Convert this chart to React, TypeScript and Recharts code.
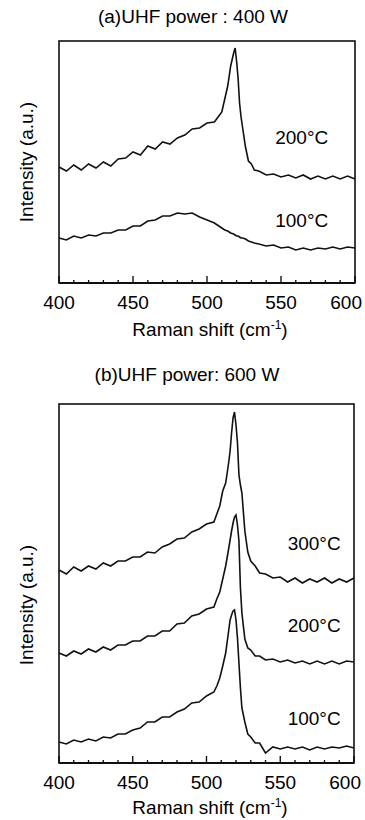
import React from "react";
import { LineChart, Line, XAxis, YAxis, ReferenceDot, ReferenceArea } from "recharts";

const FONT = "'Liberation Sans', Arial, Helvetica, sans-serif";

// (a) UHF power 400 W
const shiftA = [
  400, 405, 410, 415, 420, 425, 430, 435, 440, 445, 450, 455, 460, 465, 470, 475, 480, 485, 490, 495, 500, 505,
  508, 510, 512, 514, 516, 518, 519, 520, 521, 522, 523, 524, 526, 528, 530, 532, 535,
  540, 545, 550, 555, 560, 565, 570, 575, 580, 585, 590, 595, 600,
];
const a100 = [
  45, 43, 47, 45, 48, 47, 50, 50, 53, 53, 57, 57, 62, 63, 67, 67, 70, 69, 70, 66, 63, 60,
  57, 55, 53, 52, 50, 49, 48, 47, 47, 46, 45, 45, 44, 42, 41, 40, 39,
  37, 38, 35, 36, 33, 35, 33, 35, 34, 36, 34, 36, 35, 37,
];
const a200 = [
  116, 112, 118, 113, 119, 115, 121, 117, 124, 125, 131, 128, 137, 134, 141, 139, 145, 148, 154, 155, 160, 161,
  167, 171, 184, 197, 217, 230, 235, 222, 205, 180, 166, 156, 136, 122, 119, 113, 112,
  108, 109, 106, 108, 105, 108, 104, 107, 104, 107, 104, 107, 104, 107,
];

// (b) UHF power 600 W
const shiftB = [
  400, 405, 410, 415, 420, 425, 430, 435, 440, 445, 450, 455, 460, 465, 470, 475, 480, 485, 490, 495, 500, 505,
  507, 509, 511, 513, 515, 516, 517, 518, 519, 520, 521, 522, 523, 524, 526, 528, 530, 533, 536,
  540, 545, 550, 555, 560, 565, 570, 575, 580, 585, 590, 595, 600,
];
const b100 = [
  21, 19, 23, 21, 24, 22, 26, 25, 29, 29, 33, 35, 41, 41, 46, 46, 51, 54, 60, 61, 67, 71,
  77, 85, 97, 110, 132, 143, 148, 152, 153, 143, 125, 100, 75, 55, 41, 29, 26, 20, 20,
  10, 16, 14, 16, 14, 16, 13, 16, 14, 16, 15, 17, 15,
];
const b200 = [
  110, 107, 112, 109, 114, 111, 116, 113, 118, 118, 122, 122, 127, 127, 132, 132, 139, 140, 147, 149, 154, 156,
  164, 171, 184, 197, 214, 223, 232, 240, 246, 248, 238, 222, 175, 150, 124, 115, 113, 107, 107,
  103, 104, 101, 103, 100, 102, 99, 102, 99, 102, 99, 102, 101,
];
const b300 = [
  193, 189, 196, 192, 197, 194, 200, 197, 202, 202, 206, 206, 211, 210, 216, 219, 224, 225, 231, 234, 239, 241,
  249, 257, 272, 280, 300, 312, 330, 345, 351, 338, 320, 288, 278, 270, 232, 211, 202, 197, 190,
  189, 185, 186, 181, 185, 180, 184, 181, 185, 180, 184, 181, 185,
];

const xTicks = [
  400, 410, 420, 430, 440, 450, 460, 470, 480, 490, 500, 510, 520, 530, 540, 550, 560, 570, 580, 590, 600,
];

const rowsA = shiftA.map((s, i) => ({ shift: s, t100: a100[i], t200: a200[i] }));
const rowsB = shiftB.map((s, i) => ({ shift: s, t100: b100[i], t200: b200[i], t300: b300[i] }));

function RamanTick(props: any) {
  const { x, y, payload } = props;
  const major = payload.value % 50 === 0;
  const last = payload.value === 600;
  return (
    <g>
      <line x1={x} x2={x} y1={y} y2={y - (major ? 7 : 3)} stroke="#000" strokeWidth={1.3} />
      {major && (
        <text
          x={last ? x + 7 : x}
          y={y + 26}
          textAnchor={last ? "end" : "middle"}
          fontSize={19}
          fontFamily={FONT}
          fill="#000"
        >
          {payload.value}
        </text>
      )}
    </g>
  );
}

const tempLabel = (value: string) => ({
  value,
  position: "center" as const,
  fontSize: 19,
  fontFamily: FONT,
  fill: "#000",
});

const line = { type: "linear" as const, stroke: "#111", strokeWidth: 1.6, dot: false, isAnimationActive: false };

function Caption({ text, cx, cy }: { text: React.ReactNode; cx: number; cy: number }) {
  return (
    <div
      style={{
        position: "absolute",
        left: cx - 150,
        top: cy - 12,
        width: 300,
        height: 24,
        lineHeight: "24px",
        textAlign: "center",
        fontSize: 19,
        fontFamily: FONT,
        color: "#000",
        whiteSpace: "nowrap",
      }}
    >
      {text}
    </div>
  );
}

function YCaption({ cx, cy }: { cx: number; cy: number }) {
  return (
    <div
      style={{
        position: "absolute",
        left: cx - 100,
        top: cy - 12,
        width: 200,
        height: 24,
        lineHeight: "24px",
        textAlign: "center",
        fontSize: 19,
        fontFamily: FONT,
        color: "#000",
        transform: "rotate(-90deg)",
      }}
    >
      Intensity (a.u.)
    </div>
  );
}

const ramanText = (
  <span>
    Raman shift (cm<sup style={{ fontSize: 12, verticalAlign: "7px", lineHeight: 0 }}>-1</sup>)
  </span>
);

export default function App() {
  return (
    <div style={{ position: "absolute", left: 0, top: 0, width: 365, height: 820, background: "#fff" }}>
      <Caption text="(a)UHF power : 400 W" cx={193} cy={17} />
      <YCaption cx={27} cy={162} />
      <Caption text={ramanText} cx={210} cy={330} />
      <div style={{ position: "absolute", left: 0, top: 0 }}>
        <LineChart width={365} height={340} data={rowsA} margin={{ top: 41, right: 10, bottom: 27, left: 59 }}>
          <XAxis
            dataKey="shift"
            type="number"
            domain={[400, 600]}
            ticks={xTicks}
            interval={0}
            tickSize={0}
            tickMargin={0}
            tick={RamanTick}
            height={30}
            axisLine={{ stroke: "#000", strokeWidth: 1.5 }}
          />
          <YAxis domain={[0, 242]} hide />
          <ReferenceArea x1={400} x2={600} y1={0} y2={242} fill="none" stroke="#000" strokeWidth={1.5} />
          <Line dataKey="t200" {...line} />
          <Line dataKey="t100" {...line} />
          <ReferenceDot x={564} y={146} r={0} fill="none" stroke="none" label={tempLabel("200°C")} />
          <ReferenceDot x={564} y={63} r={0} fill="none" stroke="none" label={tempLabel("100°C")} />
        </LineChart>
      </div>

      <Caption text="(b)UHF power: 600 W" cx={187} cy={375} />
      <YCaption cx={27} cy={605} />
      <Caption text={ramanText} cx={210} cy={808} />
      <div style={{ position: "absolute", left: 0, top: 340 }}>
        <LineChart width={365} height={480} data={rowsB} margin={{ top: 64, right: 11, bottom: 27, left: 59 }}>
          <XAxis
            dataKey="shift"
            type="number"
            domain={[400, 600]}
            ticks={xTicks}
            interval={0}
            tickSize={0}
            tickMargin={0}
            tick={RamanTick}
            height={30}
            axisLine={{ stroke: "#000", strokeWidth: 1.5 }}
          />
          <YAxis domain={[0, 359]} hide />
          <ReferenceArea x1={400} x2={600} y1={0} y2={359} fill="none" stroke="#000" strokeWidth={1.5} />
          <Line dataKey="t300" {...line} />
          <Line dataKey="t200" {...line} />
          <Line dataKey="t100" {...line} />
          <ReferenceDot x={573} y={220} r={0} fill="none" stroke="none" label={tempLabel("300°C")} />
          <ReferenceDot x={573} y={138} r={0} fill="none" stroke="none" label={tempLabel("200°C")} />
          <ReferenceDot x={573} y={45} r={0} fill="none" stroke="none" label={tempLabel("100°C")} />
        </LineChart>
      </div>
    </div>
  );
}
